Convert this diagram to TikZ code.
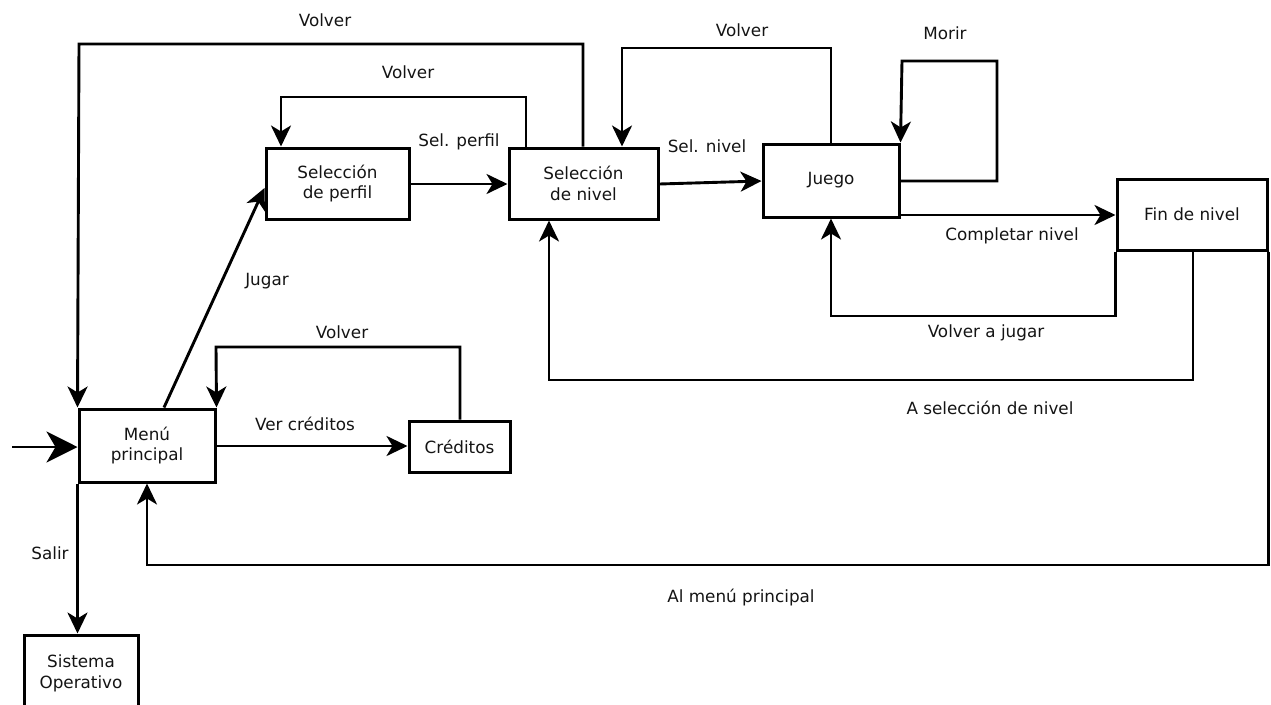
\documentclass[tikz,border=0pt]{standalone}
\usepackage{fontspec}
\setmainfont{DejaVu Sans}
\usetikzlibrary{arrows.meta}
\begin{document}
\begin{tikzpicture}[x=1pt,y=-1pt,
  every node/.style={font=\fontsize{16.8}{20.5}\selectfont, text=black!92},
  box/.style={draw=black, line width=3pt, rectangle, align=center, inner sep=0pt},
  arr/.style={line width=2.9pt, -{Stealth[length=21pt,width=20pt,inset=6pt]}},
  bigarr/.style={line width=2.9pt, -{Stealth[length=31pt,width=31pt,inset=9pt]}},
  lbl/.style={inner sep=0pt}
]
\useasboundingbox (0,0) rectangle (1271,704);

% states
\node[box, minimum width=136pt, minimum height=73pt] (menu) at (147,445.5) {Menú\\principal};
\node[box, minimum width=114pt, minimum height=77pt] (sis) at (81,673.5) {Sistema\\Operativo};
\node[box, minimum width=143pt, minimum height=71pt] (perfil) at (337.5,183.5) {Selección\\de perfil};
\node[box, minimum width=149pt, minimum height=71pt] (nivel) at (583.5,183.5) {Selección\\de nivel};
\node[box, minimum width=136pt, minimum height=73pt] (juego) at (831,180.5) {Juego};
\node[box, minimum width=150pt, minimum height=71pt] (fin) at (1192,214.5) {Fin de nivel};
\node[box, minimum width=101pt, minimum height=51pt] (cred) at (459.5,446.5) {Créditos};

% entry point
\coordinate (start) at (12,447);
\draw[bigarr] (start) -- (menu.west |- 0,447);

% transitions
\draw[arr] (menu.north -| 164,0) -- (perfil.west |- 0,188);
\draw[arr] (perfil.east |- 0,184) -- (nivel.west |- 0,184);
\draw[arr] (nivel.east |- 0,184) -- (juego.west |- 0,181);
\draw[arr] (juego.east |- 0,215) -- (fin.west |- 0,215);
\draw[arr] (menu.east |- 0,446) -- (cred.west |- 0,446);
\draw[arr] (menu.south west) -- (menu.south west |- sis.north);

% returns
\draw[arr] (nivel.north -| 583,0) |- (79,44) -- (menu.north west);
\draw[arr] (nivel.north -| 526,0) |- (281,97) -- (perfil.north -| 281,0);
\draw[arr] (juego.north) |- (622,48) -- (nivel.north -| 622,0);
\draw[arr] (juego.east |- 0,181) -- (997,181) -- (997,61) -- (902,61) -- (juego.north east);
\draw[arr] (fin.south west) |- (831,316) -- (juego.south);
\draw[arr] (fin.south -| 1193,0) |- (549,380) -- (nivel.south -| 549,0);
\draw[arr] (fin.south east) |- (147,565) -- (menu.south);
\draw[arr] (cred.north -| 460,0) |- (216,347) -- (menu.north east);

% labels
\node[lbl] (l1) at (325,20) {Volver};
\node[lbl] (l2) at (408,72) {Volver};
\node[lbl] (l3) at (459,142) {Sel. perfil};
\node[lbl] (l4) at (742,30) {Volver};
\node[lbl] (l5) at (945,33) {Morir};
\node[lbl] (l6) at (707,146) {Sel. nivel};
\node[lbl] (l7) at (1012,236) {Completar nivel};
\node[lbl] (l8) at (986,333) {Volver a jugar};
\node[lbl] (l9) at (990,408) {A selección de nivel};
\node[lbl] (l10) at (741,598) {Al menú principal};
\node[lbl] (l11) at (267,281) {Jugar};
\node[lbl] (l12) at (305,424) {Ver créditos};
\node[lbl] (l13) at (342,332) {Volver};
\node[lbl] (l14) at (50,553) {Salir};
\end{tikzpicture}
\end{document}
